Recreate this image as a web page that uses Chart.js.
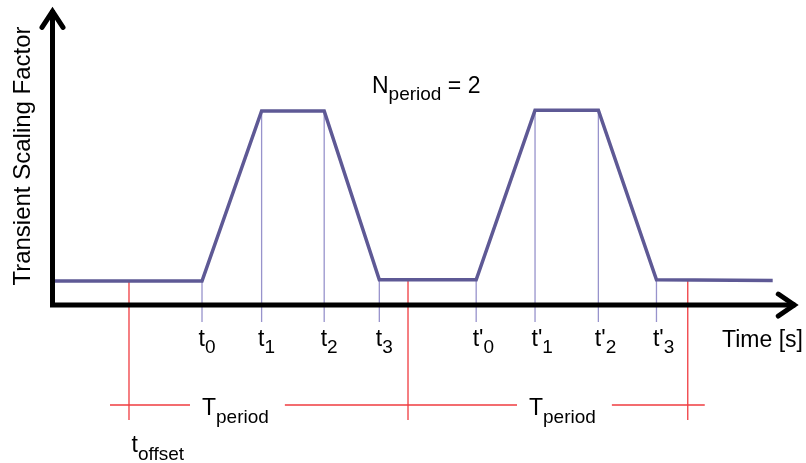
<!DOCTYPE html>
<html>
<head>
<meta charset="utf-8">
<script src="https://cdn.jsdelivr.net/npm/chart.js@4"></script>
<style>
  html, body { margin: 0; background: #fff; }
  #wrap { width: 806px; height: 463px; }
</style>
</head>
<body>
<div id="wrap"><canvas id="myChart"></canvas></div>
<script>
const ctx = document.getElementById('myChart');

// trapezoid transient, two periods
const curveTime   = [0, 20, 28, 36.4, 43.8, 56.8, 64.7, 73.2, 81, 96.6];
const curveFactor = [0.124, 0.124, 1, 1, 0.13, 0.13, 1.004, 1.004, 0.13, 0.127];

// ramp corners marked under the time axis
const markerTime  = [20, 28, 36.4, 43.8, 56.8, 64.7, 73.2, 81];
const markerName  = ['t', 't', 't', 't', "t'", "t'", "t'", "t'"];
const markerIndex = ['0', '1', '2', '3', '0', '1', '2', '3'];

// offset and period boundaries
const offsetTime = 10.2;
const periodEnd  = [47.65, 85.2];
const nPeriod    = 2;

const FONT = '"Liberation Sans", Arial, Helvetica, sans-serif';
const RED = '#f03c40';

// curve value at the vertex at or before t
function factorAt(t) {
    let v = curveFactor[0];
    for (let i = 0; i < curveTime.length; i++) {
        if (curveTime[i] <= t) v = curveFactor[i];
    }
    return v;
}

const curvePoints = curveTime.map((t, i) => ({ x: t, y: curveFactor[i] }));

const markerPoints = [];
markerTime.forEach(t => {
    markerPoints.push({ x: t, y: factorAt(t) }, { x: t, y: -0.088 }, { x: t, y: null });
});

const redPoints = [];
[offsetTime].concat(periodEnd).forEach(t => {
    redPoints.push({ x: t, y: factorAt(t) }, { x: t, y: -0.593 }, { x: t, y: null });
});

function subText(c, x, y, main, sub) {
    c.font = '23px ' + FONT;
    c.fillText(main, x, y);
    const w = c.measureText(main).width;
    c.font = '19px ' + FONT;
    c.fillText(sub, x + w, y + 7.5);
    return x + w + c.measureText(sub).width;
}

const overlay = {
    id: 'overlay',
    afterDatasetsDraw(chart) {
        const c = chart.ctx;
        const px = v => chart.scales.x.getPixelForValue(v);
        const py = v => chart.scales.y.getPixelForValue(v);
        c.save();

        // dimension line with the period labels
        const dimY = py(-0.515);
        const labels = [
            { x: px(offsetTime) + 73 },
            { x: px(periodEnd[0]) + 121 }
        ];
        c.font = '23px ' + FONT;
        const tw = c.measureText('T').width;
        c.font = '19px ' + FONT;
        const lw = tw + c.measureText('period').width;
        const cuts = [px(offsetTime) - 19];
        labels.forEach(l => { cuts.push(l.x - 12, l.x + lw + 16); });
        cuts.push(px(periodEnd[1]) + 17);
        c.strokeStyle = RED;
        c.lineWidth = 1.3;
        c.beginPath();
        for (let i = 0; i < cuts.length; i += 2) {
            c.moveTo(cuts[i], dimY);
            c.lineTo(cuts[i + 1], dimY);
        }
        c.stroke();

        // axes with open arrow heads
        const x0 = px(0) - 0.5, y0 = py(0);
        const xTip = px(99.9), yTip = py(1.529);
        c.strokeStyle = '#000';
        c.lineWidth = 5;
        c.lineCap = 'butt';
        c.beginPath();
        c.moveTo(x0 - 2.5, y0);
        c.lineTo(xTip - 2, y0);
        c.moveTo(x0, y0 + 2.5);
        c.lineTo(x0, yTip + 2);
        c.stroke();
        c.lineCap = 'round';
        c.lineJoin = 'miter';
        c.beginPath();
        c.moveTo(xTip - 19, y0 - 11);
        c.lineTo(xTip - 3, y0);
        c.lineTo(xTip - 19, y0 + 11);
        c.moveTo(x0 - 10.5, yTip + 19);
        c.lineTo(x0, yTip + 3);
        c.lineTo(x0 + 10.5, yTip + 19);
        c.stroke();

        // texts
        c.fillStyle = '#000';
        c.textBaseline = 'alphabetic';
        c.textAlign = 'left';
        markerTime.forEach((t, i) => {
            subText(c, px(t) - 3.5, 345.5, markerName[i], markerIndex[i]);
        });
        labels.forEach(l => subText(c, l.x, 415, 'T', 'period'));
        subText(c, px(offsetTime) + 2.5, 452, 't', 'offset');

        c.font = '23px ' + FONT;
        c.fillText('Time [s]', 722, 347);

        const nx = subText(c, 372, 92.5, 'N', 'period');
        c.font = '23px ' + FONT;
        c.fillText(' = ' + nPeriod, nx, 92.5);

        c.save();
        c.translate(29.5, 156);
        c.rotate(-Math.PI / 2);
        c.textAlign = 'center';
        c.font = '24px ' + FONT;
        c.fillText('Transient Scaling Factor', 0, 0);
        c.restore();

        c.restore();
    }
};

new Chart(ctx, {
    type: 'line',
    data: {
        datasets: [{
            label: 'Transient Scaling Factor',
            data: curvePoints,
            borderColor: '#5e5995',
            borderWidth: 3.5,
            pointRadius: 0,
            tension: 0,
            order: 0
        }, {
            label: 'markers',
            data: markerPoints,
            borderColor: '#9893cc',
            borderWidth: 1.3,
            pointRadius: 0,
            order: 1
        }, {
            label: 'periods',
            data: redPoints,
            borderColor: RED,
            borderWidth: 1.3,
            pointRadius: 0,
            order: 2
        }]
    },
    options: {
        responsive: true,
        maintainAspectRatio: false,
        animation: false,
        layout: { padding: 0 },
        plugins: {
            legend: { display: false },
            tooltip: { enabled: false }
        },
        scales: {
            x: { type: 'linear', display: false, min: -7.114, max: 101.07 },
            y: { type: 'linear', display: false, min: -0.814, max: 1.572 }
        }
    },
    plugins: [overlay]
});
</script>
</body>
</html>
